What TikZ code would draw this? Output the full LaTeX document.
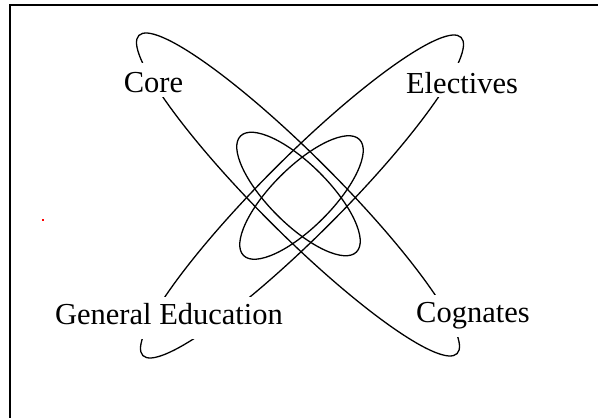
\documentclass[tikz,border=0pt]{standalone}
\usepackage{fontspec}
\setmainfont{Liberation Serif}
\begin{document}
\begin{tikzpicture}[x=1pt,y=1pt,
  ring/.style={line width=1.3pt, black},
  lbl/.style={fill=white, inner xsep=2pt, inner ysep=4pt, anchor=base, font=\fontsize{30.5pt}{36pt}\selectfont},
  toplbl/.style={lbl, text height=26pt, text depth=0pt},
  botlbl/.style={lbl, text height=24pt, text depth=10pt},
  frameline/.style={line width=2.4pt, black}
]
\useasboundingbox (0,0) rectangle (598,418);
% frame (top and left edges)
\coordinate (f1) at (10,0);
\coordinate (f2) at (10,413);
\coordinate (f3) at (598,413);
\draw[frameline] (f1) -- (f2) -- (f3);
% large ellipses
\coordinate (cA) at (298,223.5);
\coordinate (cB) at (302,221.5);
\draw[ring, rotate around={-45:(cA)}] (cA) ellipse [x radius=225, y radius=39];
\draw[ring, rotate around={45:(cB)}] (cB) ellipse [x radius=225, y radius=39];
% small ellipses
\coordinate (cC) at (298.5,224);
\coordinate (cD) at (301.5,220.5);
\draw[ring, rotate around={-45:(cC)}] (cC) ellipse [x radius=82, y radius=30];
\draw[ring, rotate around={45:(cD)}] (cD) ellipse [x radius=82, y radius=30];
% labels
\node[toplbl] (core) at (153.5,325) {Core};
\node[toplbl] (elec) at (462,324.5) {Electives};
\node[botlbl] (gen) at (169,93) {General Education};
\node[botlbl] (cog) at (473,95) {Cognates};
% stray dot
\fill[red] (42.4,197.4) rectangle (43.7,198.7);
\end{tikzpicture}
\end{document}
